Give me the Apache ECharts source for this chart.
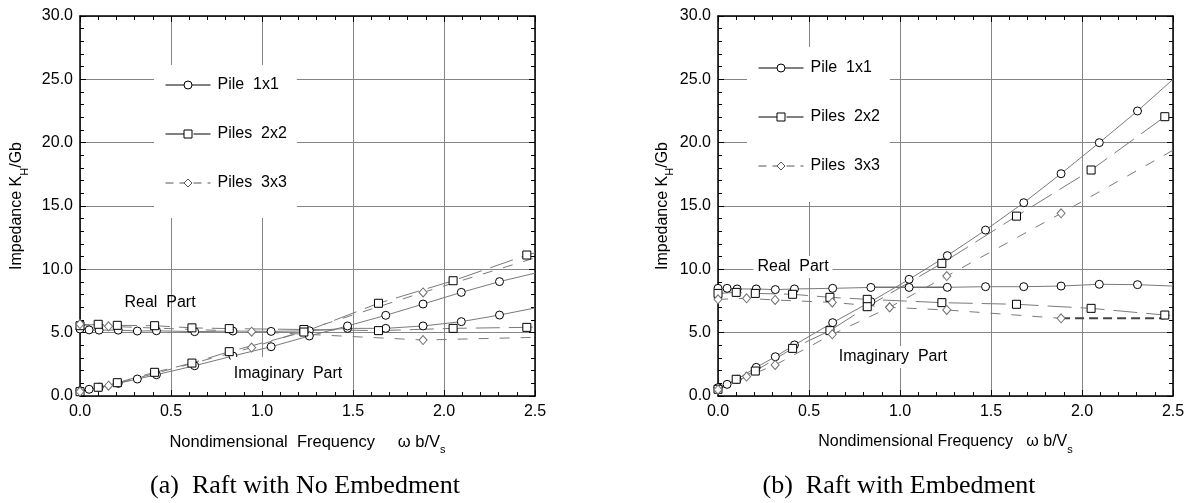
<!DOCTYPE html>
<html><head><meta charset="utf-8">
<script src="https://cdn.jsdelivr.net/npm/echarts@6/dist/echarts.min.js"></script>
<style>html,body{margin:0;padding:0;background:#fff}#c{width:1195px;height:503px}</style>
</head><body><div id="c"></div><script>
// ---------- data ----------
const xPile1 = [0, 0.05, 0.105, 0.21, 0.315, 0.42, 0.63, 0.84, 1.05, 1.26, 1.47, 1.68, 1.885, 2.095, 2.305];
const xPiles2 = [0, 0.1, 0.205, 0.41, 0.615, 0.82, 1.23, 1.64, 2.05, 2.455];
const xPiles3a = [0, 0.157, 0.943, 1.885];
const xPiles3b = [0, 0.157, 0.314, 0.628, 0.943, 1.257, 1.885];

// (a) Raft with No Embedment
const a1Real = [5.29, 5.22, 5.2, 5.2, 5.13, 5.15, 5.08, 5.13, 5.1, 5.15, 5.34, 5.34, 5.53, 5.87, 6.39];
const a1Imag = [0.42, 0.53, 0.69, 1.0, 1.34, 1.68, 2.39, 3.16, 3.89, 4.74, 5.53, 6.37, 7.26, 8.18, 9.03];
const a2Real = [5.55, 5.66, 5.58, 5.55, 5.38, 5.32, 5.25, 5.16, 5.34, 5.42];
const a2Imag = [0.34, 0.69, 1.05, 1.87, 2.6, 3.5, 5.05, 7.32, 9.1, 11.13];
const a3Real = [5.68, 5.5, 5.08, 4.42];
const a3Imag = [0.35, 0.81, 3.82, 8.18];
const aEnd = {r1: 6.95, i1: 9.7, r2: 5.45, i2: 11.3, r3: 4.63, i3: 10.9};

// (b) Raft with Embedment
const b1Real = [8.5, 8.5, 8.45, 8.45, 8.4, 8.45, 8.5, 8.57, 8.57, 8.58, 8.63, 8.63, 8.68, 8.82, 8.79];
const b1Imag = [0.66, 0.92, 1.32, 2.26, 3.1, 4.03, 5.79, 7.45, 9.21, 11.08, 13.1, 15.26, 17.55, 20.0, 22.5];
const b2Real = [8.1, 8.18, 8.1, 8.03, 7.79, 7.63, 7.37, 7.24, 6.92, 6.39];
const b2Imag = [0.53, 1.32, 1.97, 3.76, 5.16, 7.05, 10.47, 14.2, 17.84, 22.05];
const b3Real = [7.63, 7.71, 7.58, 7.39, 7.0, 6.79, 6.13];
const b3Imag = [0.5, 1.53, 2.45, 4.87, 7.0, 9.47, 14.42];
const bEnd = {r1: 8.68, i1: 25.0, r2: 6.35, i3: 19.4};
const bOverlayX = [0.84, 1.26], bOverlayY = [8.57, 8.58];
const bTailX = [1.885, 2.455], bTailY = [6.13, 6.13];

const xTicks = [0, 0.5, 1.0, 1.5, 2.0, 2.5];
const yTicks = [0, 5, 10, 15, 20, 25, 30];
const names = ['Pile  1x1', 'Piles  2x2', 'Piles  3x3'];

// ---------- styling ----------
const SANS = "'Liberation Sans', Arial, Helvetica, sans-serif";
const SERIF = "'Liberation Serif', 'Times New Roman', serif";
const GRID_C = '#858585';

function pts(xs, ys, endY) {
  const d = xs.map((x, i) => [x, ys[i]]);
  if (endY !== undefined) d.push({value: [2.5, endY], symbol: 'none'});
  return d;
}
const styles = {
  0: {symbol: 'circle', symbolSize: 8, itemStyle: {color: '#fff', borderColor: '#000', borderWidth: 1}, lineStyle: {color: '#7a7a7a', width: 1, type: 'solid'}},
  1: {symbol: 'rect', symbolSize: 8, itemStyle: {color: '#fff', borderColor: '#000', borderWidth: 1}, lineStyle: {color: '#7a7a7a', width: 1, type: [24, 9]}},
  2: {symbol: 'diamond', symbolSize: [8, 9], itemStyle: {color: '#fff', borderColor: '#707070', borderWidth: 1}, lineStyle: {color: '#7a7a7a', width: 1, type: [10, 11]}}
};
function ser(k, data, gi) {
  const s = styles[k];
  return {type: 'line', name: names[k], xAxisIndex: gi * 2, yAxisIndex: gi * 2, data,
    symbol: s.symbol, symbolSize: s.symbolSize, itemStyle: s.itemStyle, lineStyle: s.lineStyle,
    showAllSymbol: true, z: 2, animation: false, emphasis: {disabled: true}};
}

function axesFor(gi) {
  const lineS = {show: true, onZero: false, lineStyle: {color: '#000', width: 1.5}};
  const tick = {show: true, inside: true, length: 6, lineStyle: {color: '#000', width: 1}};
  const minor = {show: true, splitNumber: 5, length: 4, lineStyle: {color: '#000', width: 1}};
  const xName = gi === 0
    ? 'Nondimensional  Frequency     \u03c9 b/V{s|s}'
    : 'Nondimensional Frequency   \u03c9 b/V{s|s}';
  const nameStyle = {fontSize: gi === 0 ? 16.5 : 16, color: '#000', fontFamily: SANS,
    rich: {s: {fontSize: 11, verticalAlign: 'bottom', lineHeight: 26, fontFamily: SANS, color: '#000'},
           h: {fontSize: 11, verticalAlign: 'bottom', lineHeight: 26, fontFamily: SANS, color: '#000'}}};
  const yNameStyle = Object.assign({}, nameStyle, {fontSize: 16});
  const xs = [
    {type: 'value', gridIndex: gi, position: 'bottom', min: 0, max: 2.5, interval: 0.5,
      axisLine: lineS, axisTick: tick, minorTick: minor,
      splitLine: {show: true, lineStyle: {color: GRID_C, width: 1}},
      axisLabel: {fontSize: 16, color: '#000', fontFamily: SANS, margin: 8, formatter: v => v.toFixed(1)},
      name: xName, nameLocation: 'middle', nameGap: 33, nameTextStyle: nameStyle},
    {type: 'value', gridIndex: gi, position: 'top', min: 0, max: 2.5, interval: 0.5,
      axisLine: lineS, axisTick: tick, minorTick: minor, splitLine: {show: false}, axisLabel: {show: false}}
  ];
  const ys = [
    {type: 'value', gridIndex: gi, position: 'left', min: 0, max: 30, interval: 5,
      axisLine: lineS, axisTick: tick, minorTick: minor,
      splitLine: {show: true, lineStyle: {color: GRID_C, width: 1}},
      axisLabel: {fontSize: 16, color: '#000', fontFamily: SANS, margin: 7, formatter: v => v.toFixed(1)},
      name: 'Impedance K{h|H}/Gb', nameLocation: 'middle', nameRotate: 90,
      nameGap: gi === 0 ? 50 : 42, nameTextStyle: yNameStyle},
    {type: 'value', gridIndex: gi, position: 'right', min: 0, max: 30, interval: 5,
      axisLine: lineS, axisTick: tick, minorTick: minor, splitLine: {show: false}, axisLabel: {show: false}}
  ];
  return {xs, ys};
}
const A0 = axesFor(0), A1 = axesFor(1);

function legendAt(left, top, padTop, padBottom) {
  return {orient: 'vertical', left, top, padding: [padTop, 10, padBottom, 11], itemGap: 33,
    itemWidth: 45, itemHeight: 10, backgroundColor: '#fff', selectedMode: false, z: 4,
    textStyle: {fontSize: 16, color: '#000', fontFamily: SANS, padding: [0, 0, 0, 2]},
    data: [
      {name: names[0], lineStyle: {color: '#000', width: 1, type: 'solid'}, itemStyle: {borderWidth: 1}},
      {name: names[1], lineStyle: {color: '#000', width: 1, type: [22, 6]}, itemStyle: {borderWidth: 1}},
      {name: names[2], lineStyle: {color: '#555', width: 1, type: [8, 6]}, itemStyle: {borderColor: '#555', borderWidth: 1}}
    ]};
}

function label(text, x, y, bg, pad) {
  return {type: 'text', x, y, z: 5, style: {text, fill: '#000', fontSize: 16, fontFamily: SANS,
    align: 'center', verticalAlign: 'middle', backgroundColor: bg ? '#fff' : null, padding: pad || 0}};
}

const option = {
  animation: false,
  backgroundColor: '#fff',
  grid: [
    {left: 80, top: 16, width: 455, height: 380, show: false},
    {left: 718, top: 16, width: 455, height: 380, show: false}
  ],
  xAxis: [...A0.xs, ...A1.xs],
  yAxis: [...A0.ys, ...A1.ys],
  legend: [legendAt(154, 65, 12, 27), legendAt(747, 47, 13, 28)],
  series: [
    ser(0, pts(xPile1, a1Real, aEnd.r1), 0),
    ser(0, pts(xPile1, a1Imag, aEnd.i1), 0),
    ser(1, pts(xPiles2, a2Real, aEnd.r2), 0),
    ser(1, pts(xPiles2, a2Imag, aEnd.i2), 0),
    ser(2, pts(xPiles3a, a3Real, aEnd.r3), 0),
    ser(2, pts(xPiles3a, a3Imag, aEnd.i3), 0),
    ser(0, pts(xPile1, b1Real, bEnd.r1), 1),
    ser(0, pts(xPile1, b1Imag, bEnd.i1), 1),
    ser(1, pts(xPiles2, b2Real, bEnd.r2), 1),
    ser(1, pts(xPiles2, b2Imag), 1),
    ser(2, pts(xPiles3b, b3Real), 1),
    ser(2, pts(xPiles3b, b3Imag, bEnd.i3), 1),
    {type: 'line', name: 'overlay', xAxisIndex: 2, yAxisIndex: 2, data: pts(bOverlayX, bOverlayY),
      symbol: 'none', lineStyle: {color: '#000', width: 1.3}, z: 1, animation: false, silent: true},
    {type: 'line', name: 'tail', xAxisIndex: 2, yAxisIndex: 2, data: pts(bTailX, bTailY),
      symbol: 'none', lineStyle: {color: '#444', width: 2, type: [9, 5]}, z: 1, animation: false, silent: true}
  ],
  graphic: [
    label('Real  Part', 160, 303, false),
    label('Imaginary  Part', 288, 374, true, [4, 3, 14, 3]),
    label('Real  Part', 793, 267, true, [3, 4]),
    label('Imaginary  Part', 893, 357, true, [3, 3]),
    {type: 'text', x: 305, y: 486, z: 5, style: {text: '(a)  Raft with No Embedment', fill: '#000',
      fontSize: 26, fontFamily: SERIF, align: 'center', verticalAlign: 'middle'}},
    {type: 'text', x: 899, y: 486, z: 5, style: {text: '(b)  Raft with Embedment', fill: '#000',
      fontSize: 26, fontFamily: SERIF, align: 'center', verticalAlign: 'middle'}}
  ]
};
const chart = echarts.init(document.getElementById('c'), null, {renderer: 'canvas'});
chart.setOption(option);
</script></body></html>
